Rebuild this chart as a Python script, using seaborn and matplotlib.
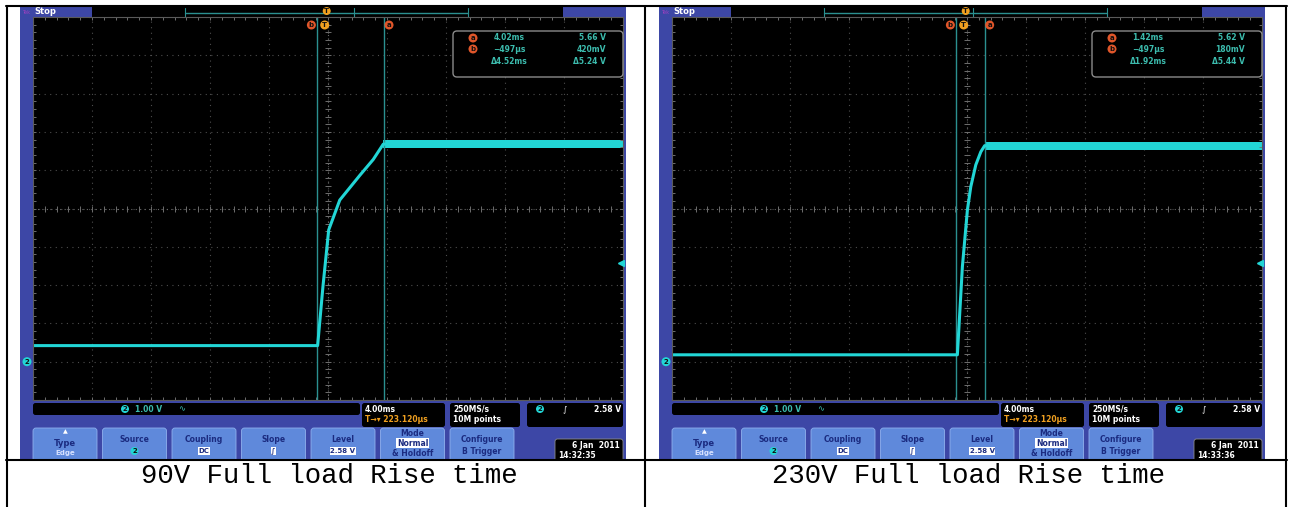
# ============================================================
# Rise time at full load — two scope captures side by side
# ============================================================

# ── 1. IMPORTS ──────────────────────────────────────────────
import numpy as np
import pandas as pd
import matplotlib
matplotlib.use("Agg")
import matplotlib.pyplot as plt
from matplotlib.patches import FancyBboxPatch, Rectangle, Circle
import seaborn as sns

# ── 2. DATA ─────────────────────────────────────────────────
MS_DIV = 4.0          # horizontal scale, ms / div
V_DIV = 1.0           # ch2 scale, V / div
H_DELAY = 0.223       # ms, screen centre after trigger point
V_BOTTOM = -1.0       # ch2 ground sits 4 div below centre
TRIG_LEVEL = 2.58

panel_left = [20, 659]
captions = ["90V Full load Rise time", "230V Full load Rise time"]

# ch2 output voltage (V) vs time from trigger (ms)
t_90 = [-20.0, -0.48, -0.12, 0.27, 1.02, 2.39, 3.29, 3.97, 20.5]
v_90 = [0.42, 0.42, 1.96, 3.44, 4.22, 4.87, 5.28, 5.68, 5.68]
t_230 = [-20.0, -0.43, -0.09, 0.25, 0.48, 0.82, 1.16, 1.42, 20.5]
v_230 = [0.18, 0.18, 2.48, 3.96, 4.57, 5.14, 5.48, 5.64, 5.64]
traces_t = [t_90, t_230]
traces_v = [v_90, v_230]

# ripple band on the settled output
band_start = [3.97, 1.42]
band_lo = [5.58, 5.53]
band_hi = [5.79, 5.74]

cursor_a = [4.02, 1.42]
cursor_b = [-0.497, -0.497]
readout_a = [("4.02ms", "5.66 V"), ("1.42ms", "5.62 V")]
readout_b = [("\u2212497\u00b5s", "420mV"), ("\u2212497\u00b5s", "180mV")]
readout_d = [("\u03944.52ms", "\u03945.24 V"), ("\u03941.92ms", "\u03945.44 V")]
timestamps = ["14:32:35", "14:33:36"]

buttons = [("Type", "Edge"), ("Source", "2"), ("Coupling", "DC"), ("Slope", "\u222b"),
           ("Level", "2.58 V"), ("Mode", "Normal", "& Holdoff"), ("Configure", "B Trigger")]

# ── 3. STYLE ────────────────────────────────────────────────
W, H = 1292, 507
TEK_BLUE = "#3d47a6"
BTN_BLUE = "#5f89db"
NAVY = "#1b2b80"
CYAN = "#22d6d6"
CURSOR = "#2b9090"
TEAL_TXT = "#3cbcae"
ORANGE = "#e0562a"
AMBER = "#f0a020"
FONT = "DejaVu Sans"

sns.set_style("white")
plt.rcParams["font.family"] = [FONT]

fig = plt.figure(figsize=(W / 100, H / 100), dpi=100)
# bg: frame under the graticules, fg: overlays above them (both in pixels)
bg = fig.add_axes([0, 0, 1, 1])
fg = fig.add_axes([0, 0, 1, 1])
for a in (bg, fg):
    a.set_xlim(0, W); a.set_ylim(H, 0); a.axis("off")
bg.set_zorder(0)
fg.set_zorder(10)


def txt(x, y, s, size=5.5, color="white", ha="center", va="center", on=None, **kw):
    on = on or fg
    z = kw.pop("zorder", 4)
    fam = kw.pop("family", FONT)
    on.text(x, y, s, fontsize=size, color=color, ha=ha, va=va, family=fam, zorder=z, **kw)


def rbox(x, y, w, h, fc, ec="none", lw=0, r=2.5, z=2, on=None):
    on = on or fg
    on.add_patch(FancyBboxPatch((x + r, y + r), w - 2 * r, h - 2 * r, boxstyle=f"round,pad={r}",
                                fc=fc, ec=ec, lw=lw, zorder=z))


def badge(x, y, s, fc, tc="#101010", r=4.5, size=5):
    fg.add_patch(Circle((x, y), r, fc=fc, ec="none", zorder=5))
    txt(x, y, s, size=size, color=tc, weight="bold", zorder=6)


t_min = H_DELAY - 5 * MS_DIV
t_max = H_DELAY + 5 * MS_DIV


def t2px(x0, t):
    return x0 + 13 + (t - t_min) / (10 * MS_DIV) * 590


def v2py(v):
    return 400 - (v - V_BOTTOM) / (10 * V_DIV) * 383


# ── 4. THE TWO SCOPE SCREENS ────────────────────────────────
for i, x0 in enumerate(panel_left):
    # frame + top bar
    bg.add_patch(Rectangle((x0, 7), 606, 453, fc=TEK_BLUE, ec="none", zorder=1))
    bg.add_patch(Rectangle((x0 + 72, 7), 471, 10, fc="black", ec="none", zorder=1.5))
    bg.plot([x0 + 165, x0 + 448], [13, 13], color=CURSOR, lw=1, zorder=2)
    for xv in [x0 + 165, x0 + (334 if i == 0 else 314), x0 + 448]:
        bg.plot([xv, xv], [8, 17], color=CURSOR, lw=0.8, zorder=2)
    txt(x0 + 14, 12, "Stop", size=6, ha="left", weight="bold")
    txt(x0 + 2, 12, "Tek", size=3.5, color="#a040c0", ha="left")

    # graticule axes
    ax = fig.add_axes([(x0 + 13) / W, 1 - 400 / H, 590 / W, 383 / H])
    ax.set_zorder(5)
    ax.set_facecolor("black")
    ax.set_xlim(t_min, t_max)
    ax.set_ylim(V_BOTTOM, V_BOTTOM + 10 * V_DIV)
    ax.set_xticks(np.arange(t_min, t_max + 0.01, MS_DIV))
    ax.set_yticks(np.arange(V_BOTTOM, V_BOTTOM + 10.01 * V_DIV, V_DIV))
    ax.grid(True, color="#4d4d4d", lw=0.8, ls=(0, (1, 4)))
    ax.tick_params(length=0, labelbottom=False, labelleft=False)
    for sp in ax.spines.values():
        sp.set_color("#5a5a5a"); sp.set_linewidth(0.8)
    xc, yc = H_DELAY, V_BOTTOM + 5 * V_DIV
    ax.axvline(xc, color="#6a6a6a", lw=0.8, ls=(0, (1, 3)))
    ax.axhline(yc, color="#6a6a6a", lw=0.8, ls=(0, (1, 3)))
    ys = np.arange(V_BOTTOM, V_BOTTOM + 10.01 * V_DIV, V_DIV / 5)
    xs = np.arange(t_min, t_max + 0.01, MS_DIV / 5)
    for xx in [xc, t_min, t_max]:
        ax.plot([xx] * len(ys), ys, ls="none", marker="_", ms=4, mew=0.7, color="#6e6e6e")
    for yy in [yc, V_BOTTOM, V_BOTTOM + 10 * V_DIV]:
        ax.plot(xs, [yy] * len(xs), ls="none", marker="|", ms=4, mew=0.7, color="#6e6e6e")

    # cursors
    ax.axvline(cursor_a[i], color=CURSOR, lw=1.0)
    ax.axvline(cursor_b[i], color=CURSOR, lw=1.0)

    # ch2 trace
    df = pd.DataFrame({"t": traces_t[i], "v": traces_v[i]})
    sns.lineplot(data=df, x="t", y="v", ax=ax, color=CYAN, lw=2.2, estimator=None, sort=False)
    tb = np.array([band_start[i], t_max + 1])
    ax.fill_between(tb, band_lo[i], band_hi[i], color=CYAN, lw=0)
    ax.set_xlabel(""); ax.set_ylabel("")
    fg.plot([t2px(x0, t_max) - 2], [v2py(TRIG_LEVEL)], marker="<", ms=4, color=CYAN)

    # cursor / trigger badges
    badge(t2px(x0, cursor_b[i]) - 6, 25, "b", ORANGE)
    badge(t2px(x0, cursor_a[i]) + 5, 25, "a", ORANGE)
    badge(t2px(x0, 0), 25, "T", AMBER)
    badge(t2px(x0, 0) + 2, 11, "T", AMBER, r=4)
    badge(x0 + 7, v2py(0), "2", CYAN)

    # cursor readout
    rbox(x0 + 433, 31, 170, 46, "black", ec="#8a8a8a", lw=1.0, r=4, z=3)
    badge(x0 + 453, 38, "a", ORANGE)
    badge(x0 + 453, 49, "b", ORANGE)
    for row, (tv, vv) in zip([38, 49, 61], [readout_a[i], readout_b[i], readout_d[i]]):
        txt(x0 + 489, row, tv, size=5.5, color=TEAL_TXT, weight="bold")
        txt(x0 + 586, row, vv, size=5.5, color=TEAL_TXT, ha="right", weight="bold")

    # status bar
    rbox(x0 + 13, 403, 327, 12, "black")
    badge(x0 + 105, 409, "2", CYAN, r=4)
    txt(x0 + 115, 409, "1.00 V", color=TEAL_TXT, ha="left", weight="bold")
    txt(x0 + 162, 409, "\u223f", color=TEAL_TXT, size=6)
    rbox(x0 + 342, 403, 83, 24, "black")
    txt(x0 + 345, 409, "4.00ms", ha="left", weight="bold")
    txt(x0 + 345, 420, "T\u2192\u25be 223.120\u00b5s", color=AMBER, ha="left", weight="bold")
    rbox(x0 + 430, 403, 70, 24, "black")
    txt(x0 + 433, 409, "250MS/s", ha="left", weight="bold")
    txt(x0 + 433, 420, "10M points", ha="left", weight="bold")
    rbox(x0 + 507, 403, 96, 24, "black")
    badge(x0 + 520, 409, "2", CYAN, r=4)
    txt(x0 + 545, 409, "\u222b", size=6)
    txt(x0 + 601, 409, "2.58 V", ha="right", weight="bold")

    # soft buttons
    for j, lab in enumerate(buttons):
        bx = x0 + 13 + j * 69.5
        rbox(bx, 428, 64, 40, BTN_BLUE, ec="#8fb0ee", lw=0.6, r=3)
        cx = bx + 32
        if lab[0] == "Type":
            txt(cx, 432, "\u25b2", size=4.5)
            txt(cx, 443, lab[0], color=NAVY, size=6, weight="bold")
            txt(cx, 453, lab[1], color="#d8e2ff", size=5, weight="bold")
        elif lab[0] == "Mode":
            txt(cx, 433, lab[0], color=NAVY, size=5.5, weight="bold")
            txt(cx, 443, lab[1], color=NAVY, size=5.5, weight="bold",
                bbox=dict(fc="white", ec="none", pad=0.6))
            txt(cx, 453, lab[2], color=NAVY, size=5.5, weight="bold")
        else:
            txt(cx, 440, lab[0], color=NAVY, size=5.5, weight="bold")
            if lab[0] == "Source":
                badge(cx, 451, lab[1], CYAN, r=4)
            elif lab[0] in ("Coupling", "Slope", "Level"):
                txt(cx, 451, lab[1], color=NAVY, size=5, weight="bold",
                    bbox=dict(fc="white", ec="none", pad=0.6))
            else:
                txt(cx, 451, lab[1], color=NAVY, size=5.5, weight="bold")
    rbox(x0 + 535, 439, 68, 25, "black", ec="#8a8a8a", lw=0.6)
    txt(x0 + 600, 446, "6 Jan  2011", ha="right", weight="bold")
    txt(x0 + 538, 455, timestamps[i], ha="left", weight="bold")

    # crop screenshot at the cell line
    fg.add_patch(Rectangle((x0 - 2, 460), 612, 20, fc="white", ec="none", zorder=7))

    # caption cell
    txt(t2px(x0, H_DELAY) + 1, 483, captions[i], size=19.7, color="black", va="baseline",
        zorder=8, family="Liberation Mono")

# ── 5. TABLE RULES ──────────────────────────────────────────
for xv in [7, 645, 1286]:
    fg.plot([xv, xv], [6, H], color="black", lw=1.5, zorder=9)
fg.plot([6, 1287], [6, 6], color="black", lw=1.5, zorder=9)
fg.plot([6, 1287], [460, 460], color="black", lw=1.5, zorder=9)

plt.savefig("out.png", dpi=100)
print("saved out.png")
